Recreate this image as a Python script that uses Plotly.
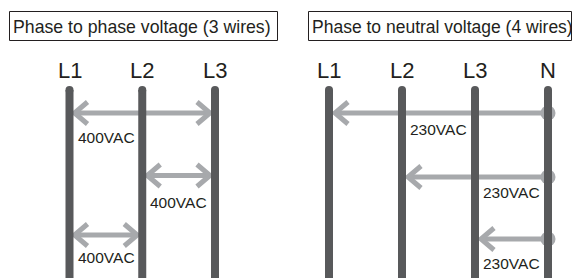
import plotly.graph_objects as go

# ---- data ----
left_title = "Phase to phase voltage (3 wires)"
right_title = "Phase to neutral voltage (4 wires)"
left_wires = ["L1", "L2", "L3"]
right_wires = ["L1", "L2", "L3", "N"]
left_from = ["L1", "L2", "L1"]
left_to = ["L3", "L3", "L2"]
left_volts = [400, 400, 400]
right_from = ["N", "N", "N"]
right_to = ["L1", "L2", "L3"]
right_volts = [230, 230, 230]

# ---- layout constants (pixels) ----
W, H = 572, 278
WIRE_C = "#58595b"
ARROW_C = "#a7a9ac"
TEXT_C = "#231f20"
FONT = "Liberation Sans, Arial, sans-serif"
left_x0, left_dx = 69.5, 72.75
right_x0, right_dx = 329.0, 73.0
wire_top = 90
wire_half = 4
label_y = 70
left_arrow_y = [113, 175.5, 235]
left_label_y = [137, 202, 257]
left_label_after = ["L1", "L2", "L1"]
right_arrow_y = [113, 177, 239]
right_label_y = [129, 192.5, 263]
right_label_after = ["L2", "L3", "L3"]
head_dx, head_dy = 13, 11

def lx(name):
    return left_x0 + left_wires.index(name) * left_dx

def rx(name):
    return right_x0 + right_wires.index(name) * right_dx

fig = go.Figure()
shapes = []
annotations = []

# title boxes
shapes.append(dict(type="rect", x0=9.5, x1=277.5, y0=11.5, y1=40.5,
                   line=dict(color=TEXT_C, width=1), fillcolor="white", layer="below"))
shapes.append(dict(type="rect", x0=308.5, x1=571.5, y0=11.5, y1=40.5,
                   line=dict(color=TEXT_C, width=1), fillcolor="white", layer="below"))
annotations.append(dict(x=11, y=27, text=left_title, showarrow=False, xanchor="left",
                        yanchor="middle", font=dict(size=17.7, color=TEXT_C, family=FONT)))
annotations.append(dict(x=310, y=27, text=right_title, showarrow=False, xanchor="left",
                        yanchor="middle", font=dict(size=17.5, color=TEXT_C, family=FONT)))

# wires
for names, fx in ((left_wires, lx), (right_wires, rx)):
    for n in names:
        cx = fx(n)
        shapes.append(dict(type="rect", x0=cx - wire_half, x1=cx + wire_half, y0=wire_top, y1=H + 5,
                           line=dict(width=0), fillcolor=WIRE_C))
        shapes.append(dict(type="circle", x0=cx - wire_half, x1=cx + wire_half,
                           y0=wire_top - wire_half, y1=wire_top + wire_half,
                           line=dict(width=0), fillcolor=WIRE_C))
        annotations.append(dict(x=cx, y=label_y, text=n, showarrow=False, xanchor="center",
                                yanchor="middle", font=dict(size=22, color=TEXT_C, family=FONT)))

# arrows
ax, ay = [], []
def chevron(tip_x, y, direction):
    ax.extend([tip_x + direction * head_dx, tip_x, tip_x + direction * head_dx, None])
    ay.extend([y - head_dy, y, y + head_dy, None])

for f, t, v, y, ly, after in zip(left_from, left_to, left_volts, left_arrow_y, left_label_y, left_label_after):
    xa, xb = sorted([lx(f), lx(t)])
    x1, x2 = xa + wire_half + 1, xb - wire_half - 1
    ax.extend([x1, x2, None]); ay.extend([y, y, None])
    chevron(x1, y, +1)
    chevron(x2, y, -1)
    annotations.append(dict(x=lx(after) + wire_half + 2, y=ly, text=f"{v}VAC", showarrow=False,
                            xanchor="left", yanchor="middle",
                            font=dict(size=15.5, color=TEXT_C, family=FONT)))

dots_x, dots_y = [], []
for f, t, v, y, ly, after in zip(right_from, right_to, right_volts, right_arrow_y, right_label_y, right_label_after):
    xs = rx(f)
    xt = rx(t) + wire_half + 2
    ax.extend([xs, xt, None]); ay.extend([y, y, None])
    chevron(xt, y, +1)
    dots_x.append(xs); dots_y.append(y)
    annotations.append(dict(x=rx(after) + wire_half + 2, y=ly, text=f"{v}VAC", showarrow=False,
                            xanchor="left", yanchor="middle",
                            font=dict(size=15.5, color=TEXT_C, family=FONT)))

fig.add_trace(go.Scatter(x=ax, y=ay, mode="lines", line=dict(color=ARROW_C, width=5),
                         hoverinfo="skip", showlegend=False))
fig.add_trace(go.Scatter(x=dots_x, y=dots_y, mode="markers",
                         marker=dict(color=ARROW_C, size=15, line=dict(width=0)),
                         hoverinfo="skip", showlegend=False))

fig.update_layout(
    width=W, height=H, margin=dict(l=0, r=0, t=0, b=0),
    paper_bgcolor="white", plot_bgcolor="white",
    xaxis=dict(range=[0, W], visible=False, fixedrange=True),
    yaxis=dict(range=[H, 0], visible=False, fixedrange=True),
    shapes=shapes, annotations=annotations, showlegend=False,
)
fig.write_html("out.html", config={"displayModeBar": False},
               post_script="document.body.style.margin='0';document.body.style.overflow='hidden';")
